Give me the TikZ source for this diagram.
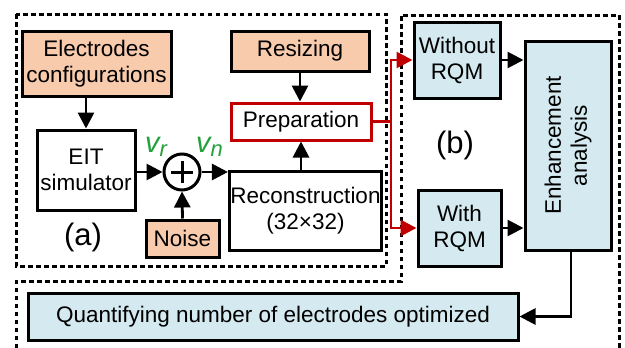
\documentclass[tikz,border=0pt]{standalone}
\usepackage{fontspec}
\setmainfont{Liberation Sans}
\usetikzlibrary{arrows.meta}
\definecolor{peach}{HTML}{F8CBAD}
\definecolor{lblue}{HTML}{D4EAF0}
\definecolor{dred}{HTML}{C00000}
\definecolor{vgreen}{HTML}{22A03C}
\tikzset{
  base/.style={draw=black, line width=3pt, inner sep=1pt, align=center, font=\fontsize{22.5}{26}\selectfont},
  peachbox/.style={base, fill=peach},
  whitebox/.style={base, fill=white},
  bluebox/.style={base, fill=lblue},
  arr/.style={line width=2.8pt, -{Triangle[length=16pt,width=16pt]}},
  redarr/.style={line width=2.8pt, draw=dred, -{Triangle[length=16pt,width=16pt]}, color=dred},
  dashframe/.style={line width=3pt, dash pattern=on 4.5pt off 3.5pt},
  biglabel/.style={font=\fontsize{31}{31}\selectfont},
}
\begin{document}
\begin{tikzpicture}[x=1pt,y=-1pt]
\useasboundingbox (0,0) rectangle (625,348);
% dashed frames
\draw[dashframe] (16,14) rectangle (386,266);
\draw[dashframe] (16,348) -- (16,281) -- (401,281) -- (401,15) -- (619,15) -- (619,348);
% nodes
\node[peachbox, minimum width=149, minimum height=65] (elec) at (96.5,63.5) {Electrodes\\configurations};
\node[whitebox, minimum width=98, minimum height=80] (eit) at (86,170) {EIT\\simulator};
\node[draw=black, line width=3pt, circle, minimum size=36, inner sep=0pt, fill=white] (sum) at (182,172) {};
\draw[line width=3pt] ([yshift=-11pt]sum.center) -- ([yshift=11pt]sum.center) ([xshift=-11pt]sum.center) -- ([xshift=11pt]sum.center);
\node[peachbox, minimum width=73, minimum height=37] (noise) at (182.5,238.5) {Noise};
\node[peachbox, minimum width=138, minimum height=40] (resize) at (300,51) {Resizing};
\node[whitebox, draw=dred, line width=3pt, minimum width=140, minimum height=37] (prep) at (301,121.5) {Preparation};
\node[whitebox, minimum width=149, minimum height=79] (recon) at (305.5,210.5) {Reconstruction\\(32×32)};
\node[bluebox, minimum width=86, minimum height=76] (without) at (457,60) {Without\\RQM};
\node[bluebox, minimum width=83, minimum height=76] (with) at (459.5,228) {With\\RQM};
\node[bluebox, minimum width=86, minimum height=209] (enh) at (568,145.5) {};
\node[rotate=90, align=center, font=\fontsize{22.5}{26}\selectfont] (enhtext) at (enh.center) {Enhancement\\analysis};
\node[bluebox, minimum width=490, minimum height=47] (quant) at (273,316.5) {Quantifying number of electrodes optimized};
% labels
\node[biglabel] (la) at (83,237) {(a)};
\node[biglabel] (lb) at (455,145) {(b)};
\node[text=vgreen, anchor=base west, inner sep=0pt] (vr) at (145,152) {\fontsize{29}{29}\selectfont\itshape v\raisebox{-4pt}{\fontsize{22}{22}\selectfont r}};
\node[text=vgreen, anchor=base west, inner sep=0pt] (vn) at (196,152) {\fontsize{29}{29}\selectfont\itshape v\raisebox{-4pt}{\fontsize{22}{22}\selectfont n}};
% connectors
\draw[arr] (elec.south -| eit.north) -- (eit.north);
\draw[arr] (eit.east |- sum.west) -- (sum.west);
\draw[arr] (sum.east) -- (sum.east -| recon.west);
\draw[arr] (noise.north) -- (sum.south);
\draw[arr] (resize.south) -- (resize.south |- prep.north);
\draw[arr] (prep.south |- recon.north) -- (prep.south);
\coordinate (split) at (391,121.5);
\draw[line width=2.8pt, dred] (prep.east) -- (split);
\draw[redarr] (split) |- (without.west);
\draw[redarr] (split) |- (with.west);
\draw[arr] (without.east) -- (without.east -| enh.west);
\draw[arr] (with.east) -- (with.east -| enh.west);
\draw[arr] ([xshift=3pt]enh.south) |- (quant.east);
\end{tikzpicture}
\end{document}
